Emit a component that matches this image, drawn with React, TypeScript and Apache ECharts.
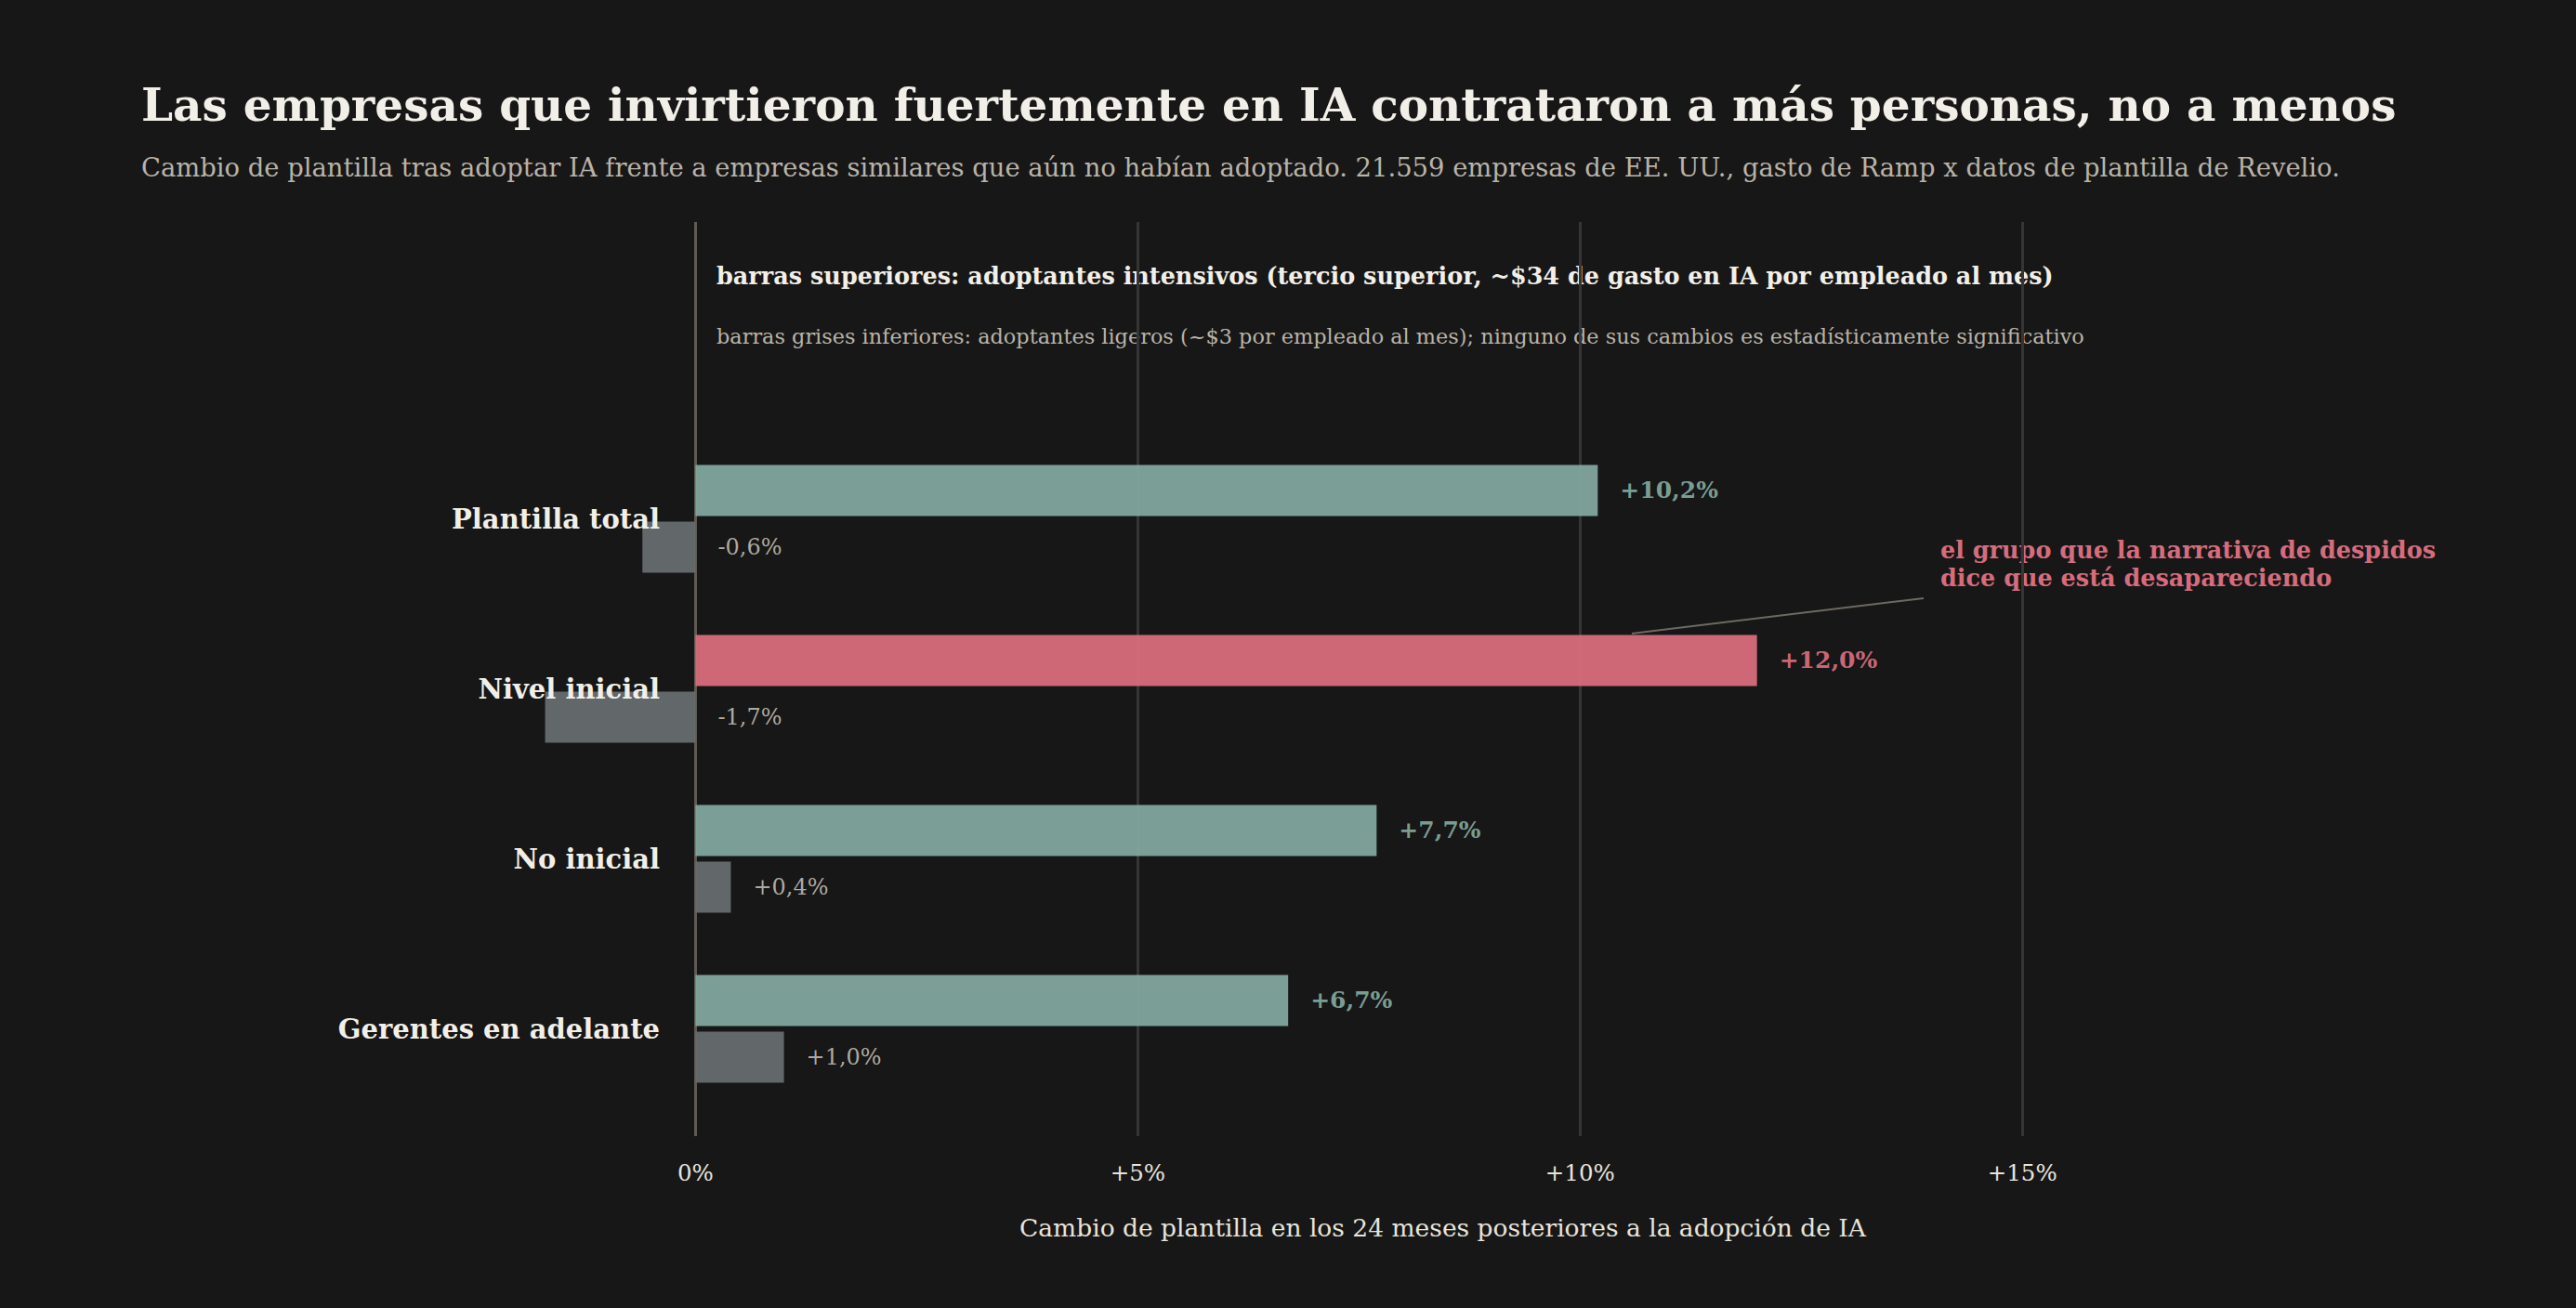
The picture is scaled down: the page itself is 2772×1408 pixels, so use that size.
import React, { useEffect, useRef } from "react";
import * as echarts from "echarts";

const categories = ["Plantilla total", "Nivel inicial", "No inicial", "Gerentes en adelante"];
const intensiveValues = [10.2, 12.0, 7.7, 6.7];
const lightValues = [-0.6, -1.7, 0.4, 1.0];
const xTicks = [0, 5, 10, 15];
const highlightCategory = "Nivel inicial";

const FONT = "'DejaVu Serif', serif";
const BG = "#171717";
const GREEN = "#80a59c";
const RED = "#d66c7c";
const GRAY = "#666b6e";
const TEXT = "#f2efe8";
const MUTED = "#b9b3a8";

const fmt = (v: number) => (v > 0 ? "+" : v < 0 ? "-" : "") + Math.abs(v).toFixed(1).replace(".", ",") + "%";

const GRID_LEFT = 558;
const GRID_RIGHT = 215;

export default function App() {
  const ref = useRef<HTMLDivElement>(null);
  useEffect(() => {
    if (!ref.current) return;
    const chart = echarts.init(ref.current, undefined, { renderer: "svg" });
    const option: any = {
      animation: false,
      backgroundColor: BG,
      textStyle: { fontFamily: FONT },
      grid: [
        { left: GRID_LEFT, right: GRID_RIGHT, top: 467, bottom: 209 },
        { left: GRID_LEFT, right: GRID_RIGHT, top: 239, bottom: 185 },
      ],
      xAxis: [
        { type: "value", gridIndex: 0, min: -2, max: 19, show: false },
        {
          type: "value",
          gridIndex: 1,
          min: -2,
          max: 19,
          axisLine: { show: false },
          axisTick: { show: false },
          splitLine: { show: false },
          axisLabel: {
            customValues: xTicks,
            formatter: (v: number) => (v === 0 ? "0%" : "+" + v + "%"),
            color: "#e8e4dc",
            fontSize: 24.5,
            fontFamily: FONT,
            margin: 27,
          },
          name: "Cambio de plantilla en los 24 meses posteriores a la adopción de IA",
          nameLocation: "middle",
          nameGap: 85,
          nameTextStyle: { color: "#e8e4dc", fontSize: 26.5, fontFamily: FONT, padding: [0, 10, 0, 0] },
        },
      ],
      yAxis: [
        {
          type: "category",
          gridIndex: 0,
          data: categories,
          inverse: true,
          z: 20,
          axisLine: { show: false },
          axisTick: { show: false },
          axisLabel: {
            color: TEXT,
            fontSize: 29,
            fontWeight: "bold",
            fontFamily: FONT,
            margin: -152,
            padding: [0, 0, 7, 0],
          },
        },
        { type: "value", gridIndex: 1, min: 0, max: 1, show: false },
      ],
      series: [
        {
          type: "scatter",
          xAxisIndex: 1,
          yAxisIndex: 1,
          data: [[0, 0.5]],
          symbolSize: 0,
          silent: true,
          z: 0,
          markLine: {
            silent: true,
            z: 0,
            symbol: ["none", "none"],
            label: { show: false },
            data: xTicks.map((v) => ({
              xAxis: v,
              lineStyle: { color: v === 0 ? "#5f5a52" : "#353535", width: 3, type: "solid" },
            })),
          },
        },
        {
          name: "intensivos",
          type: "bar",
          xAxisIndex: 0,
          yAxisIndex: 0,
          barWidth: 55,
          barGap: "11%",
          z: 10,
          data: intensiveValues.map((v, i) => {
            const c = categories[i] === highlightCategory ? RED : GREEN;
            return { value: v, itemStyle: { color: c, opacity: 0.96 }, label: { color: c } };
          }),
          label: {
            show: true,
            position: "right",
            distance: 24,
            fontSize: 25,
            fontWeight: "bold",
            fontFamily: FONT,
            formatter: (p: any) => fmt(p.value),
          },
        },
        {
          name: "ligeros",
          type: "bar",
          xAxisIndex: 0,
          yAxisIndex: 0,
          barWidth: 55,
          z: 10,
          itemStyle: { color: GRAY, opacity: 0.96 },
          data: lightValues,
          label: {
            show: true,
            position: "right",
            distance: 24,
            fontSize: 24,
            color: MUTED,
            fontFamily: FONT,
            formatter: (p: any) => fmt(p.value),
          },
        },
      ],
      graphic: [
        {
          type: "text",
          left: 152,
          top: 88,
          style: {
            text: "Las empresas que invirtieron fuertemente en IA contrataron a más personas, no a menos",
            fill: TEXT,
            font: `bold 48.5px ${FONT}`,
          },
        },
        {
          type: "text",
          left: 152,
          top: 167,
          style: {
            text: "Cambio de plantilla tras adoptar IA frente a empresas similares que aún no habían adoptado. 21.559 empresas de EE. UU., gasto de Ramp x datos de plantilla de Revelio.",
            fill: MUTED,
            font: `27.4px ${FONT}`,
          },
        },
        {
          type: "text",
          left: 771,
          top: 284,
          style: {
            text: "barras superiores: adoptantes intensivos (tercio superior, ~$34 de gasto en IA por empleado al mes)",
            fill: TEXT,
            font: `bold 25.5px ${FONT}`,
          },
        },
        {
          type: "text",
          left: 771,
          top: 351,
          style: {
            text: "barras grises inferiores: adoptantes ligeros (~$3 por empleado al mes); ninguno de sus cambios es estadísticamente significativo",
            fill: MUTED,
            font: `22.4px ${FONT}`,
          },
        },
        {
          type: "line",
          shape: { x1: 1756, y1: 682, x2: 2070, y2: 644 },
          style: { stroke: "#6e6a62", lineWidth: 2 },
        },
        {
          type: "text",
          left: 2088,
          top: 577,
          style: {
            text: "el grupo que la narrativa de despidos\ndice que está desapareciendo",
            fill: RED,
            font: `bold 25.5px ${FONT}`,
            lineHeight: 30,
          },
        },
      ],
    };
    chart.setOption(option);
    return () => chart.dispose();
  }, []);
  return <div ref={ref} style={{ position: "fixed", left: 0, top: 0, width: 2772, height: 1408 }} />;
}
